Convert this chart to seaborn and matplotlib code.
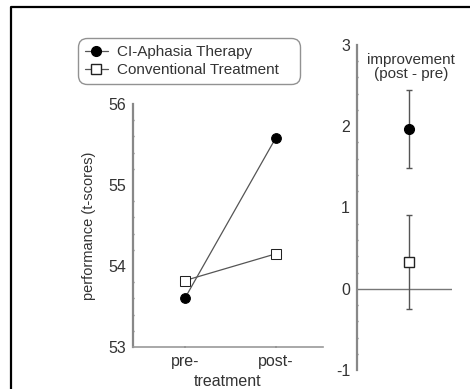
import matplotlib
matplotlib.use("Agg")
import matplotlib.pyplot as plt
import seaborn as sns
import pandas as pd
import numpy as np
from matplotlib.lines import Line2D
from matplotlib.ticker import MultipleLocator

groups = ["CI-Aphasia Therapy", "Conventional Treatment"]
phases = ["pre-", "post-"]
ci_scores = [53.6, 55.58]
conv_scores = [53.82, 54.15]
improvement = [1.97, 0.33]
improvement_err = [0.48, 0.58]

df = pd.DataFrame({
    "phase": phases * 2,
    "score": ci_scores + conv_scores,
    "group": [groups[0]] * 2 + [groups[1]] * 2,
})

sns.set_theme(style="white")
plt.rcParams["font.family"] = ["Liberation Sans", "DejaVu Sans"]
plt.rcParams["axes.unicode_minus"] = False
plt.rcParams["text.color"] = "#333333"
plt.rcParams["xtick.color"] = "#333333"
plt.rcParams["ytick.color"] = "#333333"
plt.rcParams["axes.labelcolor"] = "#333333"

fig = plt.figure(figsize=(4.7, 3.89), dpi=100)
ax = fig.add_axes([133 / 470, 1 - 347 / 389, 190 / 470, 243 / 389])
ax2 = fig.add_axes([357 / 470, 1 - 370 / 389, 95 / 470, 325 / 389])

line_color = "#555555"
styles = {
    groups[0]: dict(marker="o", markersize=7, markerfacecolor="black", markeredgecolor="black"),
    groups[1]: dict(marker="s", markersize=7.5, markerfacecolor="white", markeredgecolor="#222222"),
}

for g in groups:
    sns.lineplot(data=df[df["group"] == g], x="phase", y="score", ax=ax,
                 color=line_color, lw=0.9, legend=False, **styles[g])

ax.set_xlim(-0.57, 1.52)
ax.set_ylim(53, 56)
ax.yaxis.set_major_locator(MultipleLocator(1))
ax.yaxis.set_minor_locator(MultipleLocator(0.2))
ax.set_ylabel("performance (t-scores)", fontsize=10.5, labelpad=9)
ax.set_xlabel("treatment", fontsize=11.5, labelpad=4)

# right panel: improvement with error bars
ax2.axhline(0, color="#777777", lw=1)
xpos = np.zeros(len(groups))
ax2.errorbar(xpos, improvement, yerr=improvement_err, fmt="none",
             ecolor="#555555", elinewidth=1, capsize=2, capthick=1)
for i, g in enumerate(groups):
    ax2.plot(xpos[i], improvement[i], linestyle="none", **styles[g])
ax2.set_xlim(-0.55, 0.45)
ax2.set_ylim(-1, 3)
ax2.yaxis.set_major_locator(MultipleLocator(1))
ax2.yaxis.set_minor_locator(MultipleLocator(0.2))
ax2.set_xticks([])
ax2.text(0.57, 0.975, "improvement\n(post - pre)", transform=ax2.transAxes,
         ha="center", va="top", fontsize=11, linespacing=1.0)

for a in (ax, ax2):
    for s in ("top", "right"):
        a.spines[s].set_visible(False)
    a.spines["left"].set_color("#888888")
    a.spines["left"].set_linewidth(1.6)
    a.tick_params(axis="y", which="major", direction="out", length=3, width=1,
                  color="#777777", labelsize=11.5, pad=2)
    a.tick_params(axis="y", which="minor", direction="inout", length=2, width=1,
                  color="#777777", left=True)
    a.grid(False)
ax.spines["bottom"].set_color("#999999")
ax.spines["bottom"].set_linewidth(1.2)
ax.tick_params(axis="x", direction="inout", length=2, color="#777777",
               labelsize=11.5, pad=4, bottom=True)
ax2.spines["bottom"].set_visible(False)

handles = [Line2D([], [], color=line_color, lw=0.9, **styles[g]) for g in groups]
leg = fig.legend(handles, groups, loc="upper left",
                 bbox_to_anchor=(78 / 470, 1 - 38 / 389 - 0.01, 222 / 470, 0.01), mode="expand",
                 fontsize=11, frameon=True, fancybox=True, edgecolor="#777777",
                 handlelength=1.5, handletextpad=0.6, labelspacing=0.3,
                 borderpad=0.45, borderaxespad=0)
leg.get_frame().set_boxstyle("round", pad=0, rounding_size=0.6)

# outer frame
fig.add_artist(Line2D([11 / 470, 11 / 470, 1], [0, 1 - 7 / 389, 1 - 7 / 389],
                      transform=fig.transFigure, color="black", lw=1.6))

fig.savefig("out.png", dpi=100)
